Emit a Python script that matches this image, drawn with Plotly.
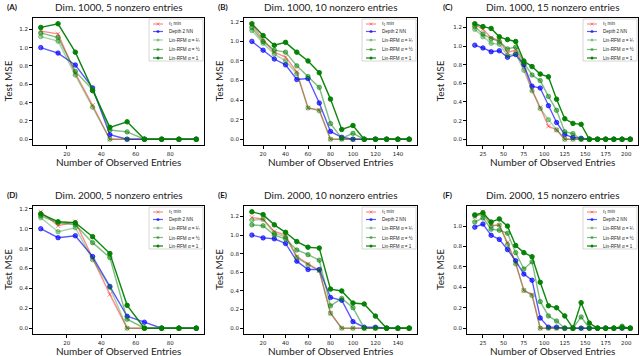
import plotly.graph_objects as go
from plotly.subplots import make_subplots

# observed entry counts
x5 = [5, 15, 25, 35, 45, 55, 65, 75, 85, 95]
x10 = [10, 20, 30, 40, 50, 60, 70, 80, 90, 100, 110, 120, 130, 140, 150]
x15 = [15, 25, 35, 45, 55, 65, 75, 85, 95, 105, 115, 125, 135, 145, 155, 165, 175, 185, 195, 205]

# (A) dim 1000, 5 nonzero
l1_A = [1.18, 1.15, 0.72, 0.37, 0.0, 0.0, 0.0, 0.0, 0.0, 0.0]
nn_A = [1.00, 0.94, 0.81, 0.56, 0.05, 0.0, 0.0, 0.0, 0.0, 0.0]
q_A = [1.12, 1.07, 0.70, 0.35, 0.0, 0.0, 0.0, 0.0, 0.0, 0.0]
h_A = [1.16, 1.11, 0.74, 0.54, 0.10, 0.08, 0.0, 0.0, 0.0, 0.0]
one_A = [1.22, 1.26, 0.95, 0.53, 0.13, 0.19, 0.0, 0.0, 0.0, 0.0]

# (B) dim 1000, 10 nonzero
l1_B = [1.17, 1.02, 0.89, 0.84, 0.69, 0.32, 0.30, 0.0, 0.0, 0.0, 0.0, 0.0, 0.0, 0.0, 0.0]
nn_B = [1.00, 0.91, 0.82, 0.76, 0.61, 0.62, 0.37, 0.08, 0.02, 0.0, 0.0, 0.0, 0.0, 0.0, 0.0]
q_B = [1.11, 0.98, 0.87, 0.80, 0.67, 0.32, 0.29, 0.0, 0.0, 0.0, 0.0, 0.0, 0.0, 0.0, 0.0]
h_B = [1.14, 1.00, 0.91, 0.89, 0.75, 0.64, 0.53, 0.16, 0.01, 0.06, 0.0, 0.0, 0.0, 0.0, 0.0]
one_B = [1.18, 1.06, 0.96, 0.99, 0.89, 0.80, 0.68, 0.41, 0.10, 0.14, 0.0, 0.0, 0.0, 0.0, 0.0]

# (C) dim 1000, 15 nonzero
l1_C = [1.23, 1.18, 1.09, 1.06, 0.93, 0.96, 0.78, 0.53, 0.34, 0.14, 0.10, 0.0, 0.0, 0.0, 0.0, 0.0, 0.0, 0.0, 0.0, 0.0]
nn_C = [1.01, 0.98, 0.94, 0.95, 0.88, 0.91, 0.80, 0.57, 0.55, 0.36, 0.18, 0.05, 0.02, 0.01, 0.0, 0.0, 0.0, 0.0, 0.0, 0.0]
q_C = [1.18, 1.10, 1.03, 1.02, 0.90, 0.92, 0.74, 0.52, 0.33, 0.21, 0.10, 0.0, 0.0, 0.0, 0.0, 0.0, 0.0, 0.0, 0.0, 0.0]
h_C = [1.21, 1.13, 1.08, 1.05, 0.97, 0.99, 0.82, 0.69, 0.63, 0.46, 0.31, 0.08, 0.06, 0.0, 0.0, 0.0, 0.0, 0.0, 0.0, 0.0]
one_C = [1.24, 1.21, 1.19, 1.10, 1.07, 1.05, 0.84, 0.78, 0.70, 0.67, 0.43, 0.22, 0.17, 0.16, 0.0, 0.0, 0.0, 0.0, 0.0, 0.0]

# (D) dim 2000, 5 nonzero
l1_D = [1.17, 1.03, 1.07, 0.70, 0.34, 0.0, 0.0, 0.0, 0.0, 0.0]
nn_D = [1.00, 0.91, 0.93, 0.72, 0.42, 0.12, 0.06, 0.0, 0.0, 0.0]
q_D = [1.11, 0.97, 1.01, 0.69, 0.41, 0.0, 0.0, 0.0, 0.0, 0.0]
h_D = [1.13, 1.06, 1.04, 0.86, 0.71, 0.09, 0.0, 0.0, 0.0, 0.0]
one_D = [1.15, 1.07, 1.06, 0.92, 0.75, 0.23, 0.0, 0.0, 0.0, 0.0]

# (E) dim 2000, 10 nonzero
l1_E = [1.19, 1.17, 1.04, 1.00, 0.77, 0.69, 0.62, 0.16, 0.0, 0.0, 0.0, 0.0, 0.0, 0.0, 0.0]
nn_E = [1.00, 0.97, 0.96, 0.91, 0.72, 0.63, 0.63, 0.33, 0.30, 0.07, 0.01, 0.01, 0.0, 0.0, 0.0]
q_E = [1.16, 1.17, 1.02, 0.98, 0.76, 0.68, 0.62, 0.16, 0.0, 0.0, 0.0, 0.0, 0.0, 0.0, 0.0]
h_E = [1.11, 1.10, 1.00, 0.96, 0.84, 0.79, 0.73, 0.24, 0.32, 0.22, 0.0, 0.0, 0.0, 0.0, 0.0]
one_E = [1.25, 1.22, 1.11, 1.03, 0.93, 0.87, 0.86, 0.42, 0.40, 0.27, 0.26, 0.13, 0.0, 0.0, 0.0]

# (F) dim 2000, 15 nonzero
l1_F = [1.09, 1.14, 1.01, 1.01, 0.84, 0.64, 0.37, 0.33, 0.0, 0.0, 0.0, 0.0, 0.0, 0.0, 0.0, 0.0, 0.0, 0.0, 0.0, 0.0]
nn_F = [0.99, 1.02, 0.91, 0.87, 0.77, 0.66, 0.53, 0.47, 0.10, 0.01, 0.01, 0.0, 0.0, 0.0, 0.0, 0.0, 0.0, 0.0, 0.0, 0.0]
q_F = [1.10, 1.11, 1.00, 1.01, 0.82, 0.63, 0.37, 0.32, 0.0, 0.0, 0.0, 0.0, 0.0, 0.0, 0.0, 0.0, 0.0, 0.0, 0.0, 0.0]
h_F = [1.04, 1.08, 0.97, 0.96, 0.93, 0.74, 0.58, 0.65, 0.26, 0.12, 0.07, 0.0, 0.0, 0.11, 0.0, 0.0, 0.0, 0.0, 0.02, 0.0]
one_F = [1.11, 1.13, 1.04, 1.07, 1.00, 0.81, 0.74, 0.70, 0.45, 0.22, 0.20, 0.12, 0.0, 0.25, 0.05, 0.0, 0.0, 0.0, 0.01, 0.0]

titles = ["Dim. 1000, 5 nonzero entries", "Dim. 1000, 10 nonzero entries", "Dim. 1000, 15 nonzero entries",
          "Dim. 2000, 5 nonzero entries", "Dim. 2000, 10 nonzero entries", "Dim. 2000, 15 nonzero entries"]
letters = ["(A)", "(B)", "(C)", "(D)", "(E)", "(F)"]
legend_names = ["ℓ<sub>1</sub> min", "Depth 2 NN", "Lin-RFM α = ¼", "Lin-RFM α = ½", "Lin-RFM α = 1"]

panels = [
    (x5, [l1_A, nn_A, q_A, h_A, one_A], 20),
    (x10, [l1_B, nn_B, q_B, h_B, one_B], 20),
    (x15, [l1_C, nn_C, q_C, h_C, one_C], 25),
    (x5, [l1_D, nn_D, q_D, h_D, one_D], 20),
    (x10, [l1_E, nn_E, q_E, h_E, one_E], 20),
    (x15, [l1_F, nn_F, q_F, h_F, one_F], 25),
]

colors = ["rgba(255,0,0,0.45)", "rgba(0,0,255,0.65)", "rgba(0,128,0,0.35)",
          "rgba(0,128,0,0.5)", "rgba(0,128,0,0.95)"]
symbols = ["x-thin-open", "circle", "circle", "circle", "circle"]

W, H = 640, 356
# axes boxes in pixels: left, right, top, bottom
cols_px = [(33, 204), (244, 417), (467, 638)]
rows_px = [(18, 145), (206, 334)]

fig = make_subplots(rows=2, cols=3)

annotations = []
shapes = []

def px(x):
    return x / W

def py(y):
    return 1 - y / H

def note(text, x, y, size, **kw):
    d = dict(text=text, x=px(x), y=py(y), xref="paper", yref="paper", showarrow=False,
             xanchor="center", yanchor="middle",
             font=dict(size=size, family=kw.pop("family", "Lato"), color=kw.pop("color", "#222")))
    d.update(kw)
    annotations.append(d)

for i, (xs, series, dt) in enumerate(panels):
    r, c = divmod(i, 3)
    for k, ys in enumerate(series):
        fig.add_trace(go.Scatter(
            x=xs, y=ys, mode="lines+markers", showlegend=False,
            line=dict(color=colors[k], width=1.4),
            marker=dict(symbol=symbols[k], size=4.5, color=colors[k],
                        line=dict(color=colors[k], width=1)),
        ), row=r + 1, col=c + 1)

    allv = [v for s in series for v in s]
    ylo, yhi = min(allv), max(allv)
    ys_pad = 0.05 * (yhi - ylo)
    xs_pad = 0.05 * (xs[-1] - xs[0])
    left, right = cols_px[c]
    top, bottom = rows_px[r]
    axn = "" if i == 0 else str(i + 1)
    fig.layout["xaxis" + axn].update(
        domain=[px(left), px(right)], range=[xs[0] - xs_pad, xs[-1] + xs_pad], automargin=False,
        tick0=0, dtick=dt, showgrid=False, zeroline=False, showline=True, mirror=True,
        linecolor="black", linewidth=0.8, ticks="outside", ticklen=3, tickwidth=0.8,
        tickcolor="black", tickfont=dict(size=5.5, color="#222", family="DejaVu Sans"))
    fig.layout["yaxis" + axn].update(
        domain=[py(bottom), py(top)], range=[ylo - ys_pad, yhi + ys_pad], automargin=False,
        tick0=0, dtick=0.2, tickformat=".1f", showgrid=False, zeroline=False, showline=True,
        mirror=True, linecolor="black", linewidth=0.8, ticks="outside", ticklen=3, tickwidth=0.8,
        tickcolor="black", tickfont=dict(size=5.5, color="#222", family="DejaVu Sans"))

    cx = (left + right) / 2
    note(titles[i], cx, top - 11, 10)
    note("<b>" + letters[i] + "</b>", left - 28 + (c == 2) * 2, top - 11, 8, xanchor="left", color="#111")
    note("Number of Observed Entries", cx, bottom + 17, 10)
    note("Test MSE", left - 25 - (c == 2) * 2, (top + bottom) / 2, 10, textangle=-90)

    # legend box, top right inside axes
    lr = right - 1
    ll = lr - 54
    lt = top + 1
    shapes.append(dict(type="rect", xref="paper", yref="paper", x0=px(ll), x1=px(lr),
                       y0=py(lt + 42), y1=py(lt), line=dict(color="#cccccc", width=0.8),
                       fillcolor="rgba(255,255,255,0.85)", layer="above"))
    for k, off in enumerate([5, 12.5, 21, 30.5, 39]):
        ey = lt + off
        shapes.append(dict(type="line", xref="paper", yref="paper", x0=px(ll + 4), x1=px(ll + 14),
                           y0=py(ey), y1=py(ey), line=dict(color=colors[k], width=1.2), layer="above"))
        if k == 0:
            for d in (1, -1):
                shapes.append(dict(type="line", xref="paper", yref="paper", x0=px(ll + 7.5), x1=px(ll + 10.5),
                                   y0=py(ey - 1.5 * d), y1=py(ey + 1.5 * d),
                                   line=dict(color=colors[k], width=0.8), layer="above"))
        else:
            shapes.append(dict(type="circle", xref="paper", yref="paper", x0=px(ll + 7.5), x1=px(ll + 10.5),
                               y0=py(ey + 1.5), y1=py(ey - 1.5), fillcolor=colors[k],
                               line=dict(width=0), layer="above"))
        note(legend_names[k], ll + 18, ey, 4.6, xanchor="left", family="Liberation Sans")

fig.update_layout(
    width=W, height=H, margin=dict(l=0, r=0, t=0, b=0),
    plot_bgcolor="white", paper_bgcolor="white",
    annotations=annotations, shapes=shapes, showlegend=False,
)

# drop the browser's default page margin so the figure sits at the window corner
fig.write_html("out.html", config={"displayModeBar": False},
               post_script="document.body.style.margin='0';")
